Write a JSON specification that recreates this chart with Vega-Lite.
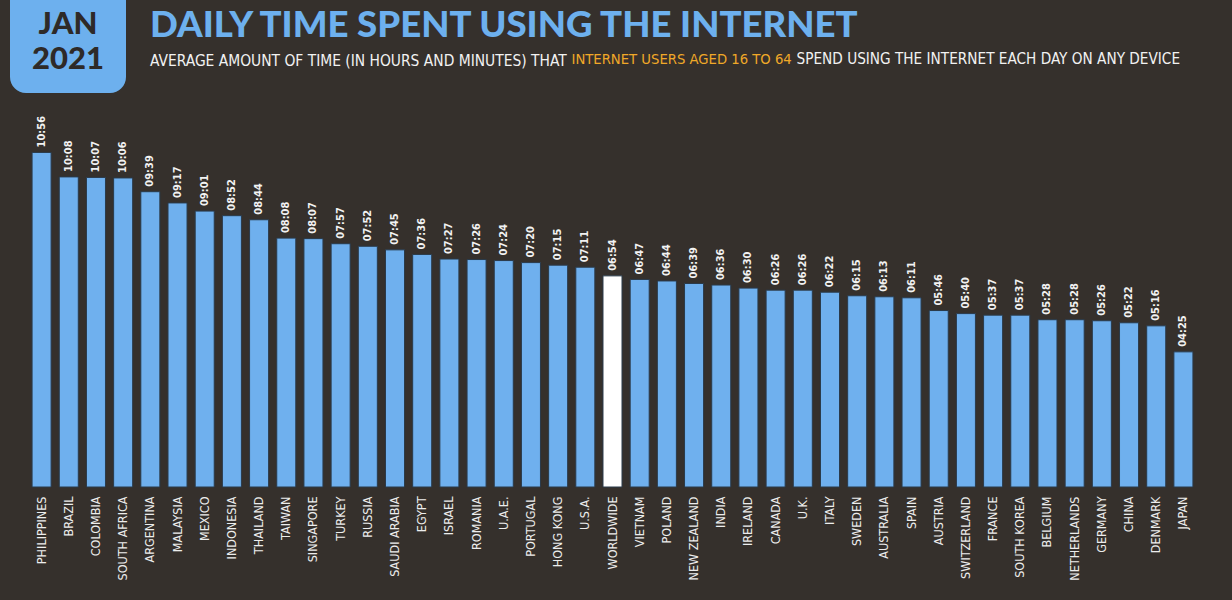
{
  "$schema": "https://vega.github.io/schema/vega-lite/v6.json",
  "autosize": "none",
  "width": 1169,
  "height": 357,
  "padding": {"left": 28, "top": 130, "right": 35, "bottom": 113},
  "background": "#35302C",
  "config": {"view": {"stroke": null}},
  "title": {
    "text": "DAILY TIME SPENT USING THE INTERNET",
    "subtitle": "AVERAGE AMOUNT OF TIME (IN HOURS AND MINUTES) THAT",
    "anchor": "start",
    "frame": "group",
    "dx": 122,
    "dy": 114,
    "font": "Lato",
    "fontSize": 36.6,
    "fontWeight": 900,
    "color": "#6DB0EE",
    "subtitleFont": "DejaVu Sans Condensed",
    "subtitleFontSize": 15.4,
    "subtitleColor": "#F2F2F2",
    "subtitlePadding": 9
  },
  "data": {
    "values": [
      {"country": "PHILIPPINES", "time": "10:56", "minutes": 656, "group": "country"},
      {"country": "BRAZIL", "time": "10:08", "minutes": 608, "group": "country"},
      {"country": "COLOMBIA", "time": "10:07", "minutes": 607, "group": "country"},
      {"country": "SOUTH AFRICA", "time": "10:06", "minutes": 606, "group": "country"},
      {"country": "ARGENTINA", "time": "09:39", "minutes": 579, "group": "country"},
      {"country": "MALAYSIA", "time": "09:17", "minutes": 557, "group": "country"},
      {"country": "MEXICO", "time": "09:01", "minutes": 541, "group": "country"},
      {"country": "INDONESIA", "time": "08:52", "minutes": 532, "group": "country"},
      {"country": "THAILAND", "time": "08:44", "minutes": 524, "group": "country"},
      {"country": "TAIWAN", "time": "08:08", "minutes": 488, "group": "country"},
      {"country": "SINGAPORE", "time": "08:07", "minutes": 487, "group": "country"},
      {"country": "TURKEY", "time": "07:57", "minutes": 477, "group": "country"},
      {"country": "RUSSIA", "time": "07:52", "minutes": 472, "group": "country"},
      {"country": "SAUDI ARABIA", "time": "07:45", "minutes": 465, "group": "country"},
      {"country": "EGYPT", "time": "07:36", "minutes": 456, "group": "country"},
      {"country": "ISRAEL", "time": "07:27", "minutes": 447, "group": "country"},
      {"country": "ROMANIA", "time": "07:26", "minutes": 446, "group": "country"},
      {"country": "U.A.E.", "time": "07:24", "minutes": 444, "group": "country"},
      {"country": "PORTUGAL", "time": "07:20", "minutes": 440, "group": "country"},
      {"country": "HONG KONG", "time": "07:15", "minutes": 435, "group": "country"},
      {"country": "U.S.A.", "time": "07:11", "minutes": 431, "group": "country"},
      {"country": "WORLDWIDE", "time": "06:54", "minutes": 414, "group": "world"},
      {"country": "VIETNAM", "time": "06:47", "minutes": 407, "group": "country"},
      {"country": "POLAND", "time": "06:44", "minutes": 404, "group": "country"},
      {"country": "NEW ZEALAND", "time": "06:39", "minutes": 399, "group": "country"},
      {"country": "INDIA", "time": "06:36", "minutes": 396, "group": "country"},
      {"country": "IRELAND", "time": "06:30", "minutes": 390, "group": "country"},
      {"country": "CANADA", "time": "06:26", "minutes": 386, "group": "country"},
      {"country": "U.K.", "time": "06:26", "minutes": 386, "group": "country"},
      {"country": "ITALY", "time": "06:22", "minutes": 382, "group": "country"},
      {"country": "SWEDEN", "time": "06:15", "minutes": 375, "group": "country"},
      {"country": "AUSTRALIA", "time": "06:13", "minutes": 373, "group": "country"},
      {"country": "SPAIN", "time": "06:11", "minutes": 371, "group": "country"},
      {"country": "AUSTRIA", "time": "05:46", "minutes": 346, "group": "country"},
      {"country": "SWITZERLAND", "time": "05:40", "minutes": 340, "group": "country"},
      {"country": "FRANCE", "time": "05:37", "minutes": 337, "group": "country"},
      {"country": "SOUTH KOREA", "time": "05:37", "minutes": 337, "group": "country"},
      {"country": "BELGIUM", "time": "05:28", "minutes": 328, "group": "country"},
      {"country": "NETHERLANDS", "time": "05:28", "minutes": 328, "group": "country"},
      {"country": "GERMANY", "time": "05:26", "minutes": 326, "group": "country"},
      {"country": "CHINA", "time": "05:22", "minutes": 322, "group": "country"},
      {"country": "DENMARK", "time": "05:16", "minutes": 316, "group": "country"},
      {"country": "JAPAN", "time": "04:25", "minutes": 265, "group": "country"}
    ]
  },
  "encoding": {
    "x": {
      "field": "country",
      "type": "nominal",
      "sort": null,
      "scale": {"paddingInner": 0.3, "paddingOuter": 0.15},
      "axis": {
        "title": "INTERNET USERS AGED 16 TO 64",
        "titleColor": "#F0A828",
        "titleFont": "DejaVu Sans Condensed",
        "titleFontSize": 14.7,
        "titleFontWeight": "normal",
        "titleAnchor": "start",
        "titleAlign": "left",
        "titleBaseline": "alphabetic",
        "titleAngle": 0,
        "titleX": 543,
        "titleY": -424,
        "labelAngle": -90,
        "labelColor": "#EDEDED",
        "labelFont": "DejaVu Sans Condensed",
        "labelFontSize": 12.5,
        "labelPadding": 9,
        "ticks": false,
        "domain": false,
        "grid": false
      }
    },
    "y": {
      "field": "minutes",
      "type": "quantitative",
      "scale": {"domain": [0, 700], "nice": false},
      "axis": {
        "title": "SPEND USING THE INTERNET EACH DAY ON ANY DEVICE",
        "titleColor": "#F2F2F2",
        "titleFont": "DejaVu Sans Condensed",
        "titleFontSize": 15.2,
        "titleFontWeight": "normal",
        "titleAngle": 0,
        "titleAlign": "left",
        "titleBaseline": "alphabetic",
        "titleX": 768,
        "titleY": -67,
        "labels": false,
        "ticks": false,
        "domain": false,
        "grid": false
      }
    }
  },
  "layer": [
    {
      "mark": {"type": "bar", "stroke": "#2A3A4A", "strokeWidth": 1},
      "encoding": {
        "color": {
          "field": "group",
          "type": "nominal",
          "scale": {"domain": ["country", "world"], "range": ["#6FB0EE", "#FFFFFF"]},
          "legend": {
            "orient": "none",
            "legendX": -18,
            "legendY": -171,
            "title": ["", "JAN", "2021"],
            "titleFont": "Lato",
            "titleFontSize": 31,
            "titleFontWeight": 900,
            "titleColor": "#2E2A28",
            "titleLineHeight": 35,
            "titleAlign": "center",
            "titleAnchor": "middle",
            "titlePadding": 0,
            "fillColor": "#6DB0EE",
            "cornerRadius": 16,
            "padding": 16,
            "symbolSize": 0,
            "symbolOpacity": 0,
            "symbolStrokeWidth": 0,
            "labelExpr": "''",
            "labelFontSize": 1,
            "labelOffset": 41,
            "columnPadding": 0,
            "rowPadding": 0,
            "direction": "horizontal"
          }
        }
      }
    },
    {
      "mark": {
        "type": "text",
        "angle": 270,
        "align": "left",
        "baseline": "middle",
        "dx": 5,
        "color": "#F2F2F2",
        "font": "DejaVu Sans Condensed",
        "fontSize": 11,
        "fontWeight": "bold"
      },
      "encoding": {
        "text": {"field": "time", "type": "nominal"}
      }
    }
  ]
}
